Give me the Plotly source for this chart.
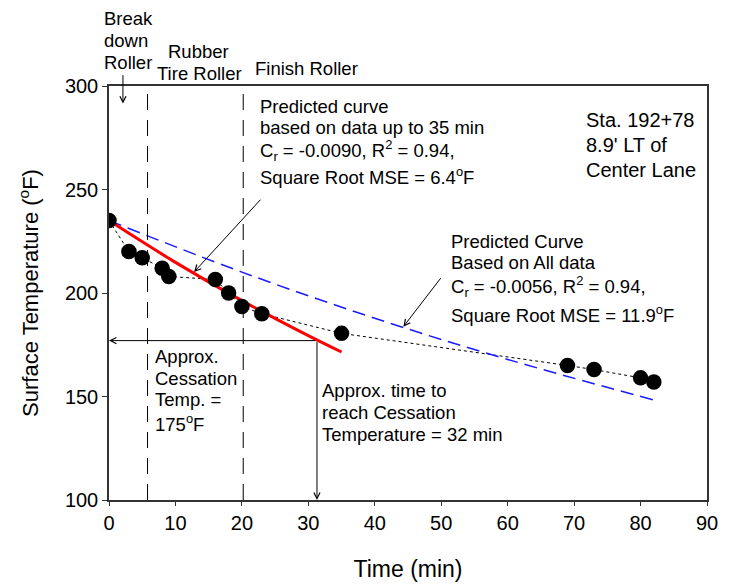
import plotly.graph_objects as go

# Measured data
time_min = [0, 3, 5, 8, 9, 16, 18, 20, 23, 35, 69, 73, 80, 82]
temp_f = [235, 220, 217, 212, 208, 206.5, 200, 193.5, 190, 180.5, 165, 163, 159, 157]

# Predicted curve (data up to 35 min)
pred35_t = [0, 10, 20, 30, 35]
pred35_T = [235, 214.8, 196.3, 179.4, 171.5]

# Predicted curve (all data)
predall_t = [0, 20, 40, 60, 82]
predall_T = [235, 210.1, 187.8, 167.9, 148.3]

# Roller boundaries
roller_t = [5.8, 20.2]
cess_temp = 177
cess_time = 31.3

x_ticks = [0, 10, 20, 30, 40, 50, 60, 70, 80, 90]
y_ticks = [100, 150, 200, 250, 300]

FONT = "Liberation Sans, Arial, sans-serif"

fig = go.Figure()

fig.add_trace(go.Scatter(x=time_min, y=temp_f, mode="lines",
                         line=dict(color="black", width=1, dash="dot"),
                         showlegend=False, hoverinfo="skip"))
fig.add_trace(go.Scatter(x=predall_t, y=predall_T, mode="lines", line_shape="spline",
                         line=dict(color="#1a1aff", width=1.5, dash="13px,7px"),
                         showlegend=False))
fig.add_trace(go.Scatter(x=pred35_t, y=pred35_T, mode="lines", line_shape="spline",
                         line=dict(color="#ff0000", width=3),
                         showlegend=False))
fig.add_trace(go.Scatter(x=time_min, y=temp_f, mode="markers",
                         marker=dict(color="black", size=15.5),
                         showlegend=False))

# Vertical dashed roller lines
for t in roller_t:
    fig.add_trace(go.Scatter(x=[t, t], y=[100, 300], mode="lines",
                             line=dict(color="black", width=1, dash="16px,10px"),
                             showlegend=False, hoverinfo="skip"))

# Arrows
arrow_common = dict(showarrow=True, arrowhead=5, arrowsize=1.2, arrowwidth=1,
                    arrowcolor="black", axref="x", ayref="y", xref="x", yref="y", text="")
anns = []
anns.append(dict(x=0, y=cess_temp, ax=cess_time, ay=cess_temp, **arrow_common))
anns.append(dict(x=cess_time, y=100, ax=cess_time, ay=cess_temp, **arrow_common))
anns.append(dict(x=2.1, y=291.5, ax=2.1, ay=306, **arrow_common))
anns.append(dict(x=12.8, y=210.1, ax=23.0, ay=245.8, **arrow_common))
anns.append(dict(x=44.3, y=183.7, ax=50.1, ay=207.9, **arrow_common))

# plot-area edges in page pixels (for placing text labels)
L, R, T, B = 109.3, 706.5, 85.7, 500.3


def px(xp, yp):
    return (xp - L) / (R - L), (B - yp) / (B - T)


def label(text, xp, yp, size=18.5, anchor="left"):
    x, y = px(xp, yp)
    anns.append(dict(text=text, x=x, y=y, xref="paper", yref="paper",
                     xanchor=anchor, yanchor="middle", showarrow=False,
                     font=dict(family=FONT, size=size, color="black")))


label("Break", 102, 18)
label("down", 102, 40)
label("Roller", 102, 62)
label("Rubber", 199, 51, anchor="center")
label("Tire Roller", 200, 73, anchor="center")
label("Finish Roller", 253, 68)

label("Predicted curve", 258, 106)
label("based on data up to 35 min", 258, 127)
label("C<sub>r</sub> = -0.0090, R<sup>2</sup> = 0.94,", 258, 150)
label("Square Root MSE = 6.4<sup>o</sup>F", 258, 176)

label("Sta. 192+78", 584, 120, size=20)
label("8.9' LT of", 584, 145, size=20)
label("Center Lane", 584, 170, size=20)

label("Predicted Curve", 449, 241)
label("Based on All data", 449, 262)
label("C<sub>r</sub> = -0.0056, R<sup>2</sup> = 0.94,", 449, 286)
label("Square Root MSE = 11.9<sup>o</sup>F", 449, 314)

label("Approx.", 153, 357)
label("Cessation", 153, 379)
label("Temp. =", 153, 400)
label("175<sup>o</sup>F", 153, 423)

label("Approx. time to", 320, 391)
label("reach Cessation", 320, 413)
label("Temperature = 32 min", 320, 435)

# page body has an 8px offset, so the figure is shrunk by 8px
fig.update_layout(
    width=727, height=576,
    margin=dict(l=101, r=28, t=78, b=84, autoexpand=False),
    plot_bgcolor="white", paper_bgcolor="white",
    font=dict(family=FONT, size=19, color="black"),
    annotations=anns,
    xaxis=dict(range=[0, 90], tickvals=x_ticks, ticks="outside", ticklen=4,
               tickcolor="#333", showline=True, linecolor="#333", linewidth=1.5,
               mirror=True, showgrid=False, zeroline=False, automargin=False,
               title=dict(text="Time (min)", font=dict(size=23), standoff=28),
               tickfont=dict(size=20)),
    yaxis=dict(range=[100, 300], tickvals=y_ticks, ticks="outside", ticklen=5,
               tickcolor="#333", showline=True, linecolor="#333", linewidth=1.5,
               mirror=True, showgrid=False, zeroline=False, automargin=False,
               title=dict(text="Surface Temperature (<sup>o</sup>F)", font=dict(size=22), standoff=20),
               tickfont=dict(size=20)),
)

fig.write_html("out.html")
